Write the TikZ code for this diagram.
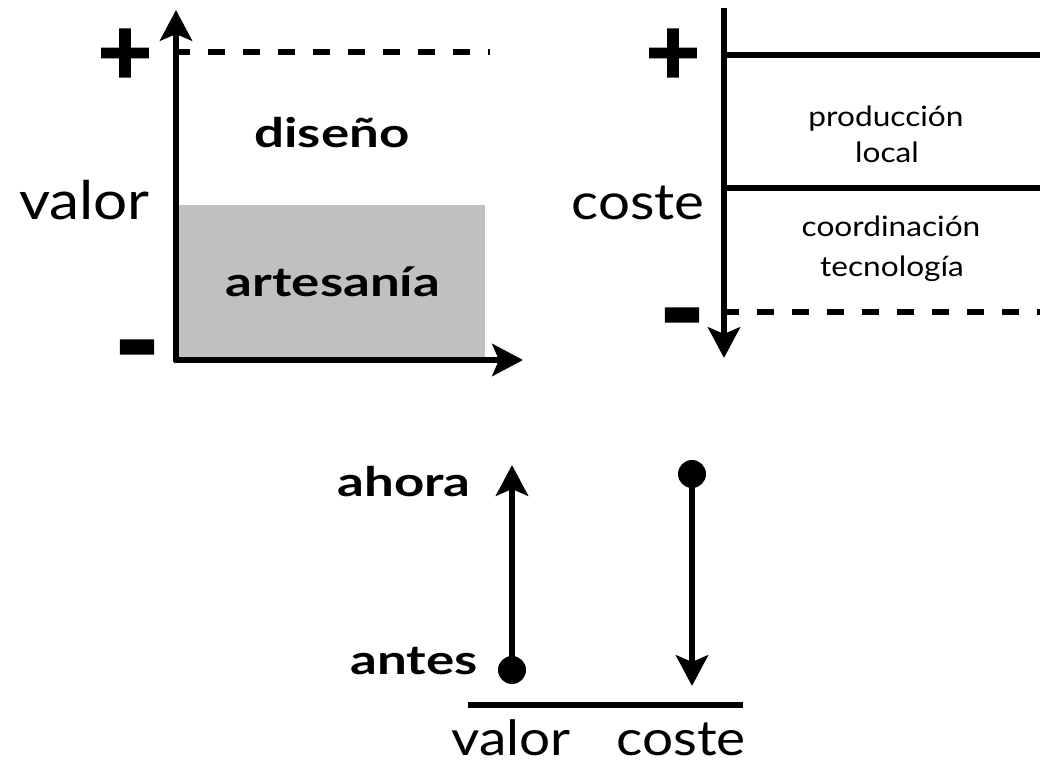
\documentclass[tikz,border=0pt]{standalone}
\usepackage{fontspec}
\setmainfont{Lato}[FakeStretch=1.13, BoldFont={Lato Bold}, BoldFeatures={FakeStretch=1.3}]
\newfontfamily\heavyfont[FakeBold=2.5]{Lato Bold}
\usetikzlibrary{arrows.meta}
\definecolor{boxgray}{RGB}{192,192,192}
\begin{document}
\begin{tikzpicture}[x=0.75pt,y=-0.75pt,
  axis/.style={line width=4.5pt},
  arr/.style={-{Stealth[length=23pt,width=24pt,inset=5pt]}},
  dsh/.style={line width=4.5pt, dash pattern=on 12.75pt off 13.5pt},
  lbl/.style={inner sep=0pt, font=\fontsize{40}{40}\selectfont},
  blbl/.style={inner sep=0pt, font=\fontsize{36.5}{36.5}\selectfont},
  inlbl/.style={inner sep=0pt, font=\bfseries\fontsize{30.5}{30.5}\selectfont},
  small/.style={inner sep=0pt, font=\fontsize{21}{21}\selectfont},
  plussign/.style={inner sep=0pt, font=\heavyfont\fontsize{70}{70}\selectfont},
  minussign/.style={inner sep=0pt, font=\heavyfont\fontsize{90}{90}\selectfont},
  dot/.style={circle, fill=black, inner sep=0pt, minimum size=21pt}]
\useasboundingbox (0,0) rectangle (1040,766);
% ---------- left chart ----------
\coordinate (Ltop) at (176,10);
\coordinate (Lright) at (523,360);
\fill[boxgray] (178,205) rectangle (485,360);
\draw[dsh] (173,52) -- (490,52);
\draw[axis,arr] (176,362.5) -- (Ltop);
\draw[axis,arr] (173.5,360) -- (Lright);
\node[plussign] (lplus) at (125,57) {+};
\node[minussign] (lminus) at (137,362) {-};
\node[lbl, anchor=base east] (lvalor) at (150,220) {valor};
\node[inlbl, anchor=base] (diseno) at (332,148) {diseño};
\node[inlbl, anchor=base] (artesania) at (333,297) {artesanía};
% ---------- right chart ----------
\coordinate (Rtop) at (724,8);
\coordinate (Rbot) at (724,358);
\draw[axis] (724,55) -- (1040,55);
\draw[axis] (724,188) -- (1040,188);
\draw[dsh] (722,312) -- (1040,312);
\draw[axis,arr] (Rtop) -- (Rbot);
\node[plussign] (rplus) at (673,57) {+};
\node[minussign] (rminus) at (682,330) {-};
\node[lbl, anchor=base east, font=\fontsize{37.5}{37.5}\selectfont] (rcoste) at (705,220) {coste};
\node[small, anchor=base] (prod) at (886,127) {producción};
\node[small, anchor=base] (local) at (887,163) {local};
\node[small, anchor=base] (coord) at (891,237) {coordinación};
\node[small, anchor=base] (tecno) at (892,277) {tecnología};
% ---------- bottom ----------
\node[dot] (antesdot) at (512,670) {};
\coordinate (ahoratip) at (512,465);
\node[dot] (costedot) at (692,474) {};
\coordinate (costetip) at (692,686);
\draw[axis,arr] (antesdot.center) -- (ahoratip);
\draw[axis,arr] (costedot.center) -- (costetip);
\coordinate (baseL) at (468,705);
\coordinate (baseR) at (743,705);
\draw[axis] (baseL) -- (baseR);
\node[inlbl, anchor=base east] (ahora) at (471,497) {ahora};
\node[inlbl, anchor=base east] (antes) at (478,675) {antes};
\node[blbl, anchor=base] (bvalor) at (511,755) {valor};
\node[blbl, anchor=base] (bcoste) at (681,755) {coste};
\end{tikzpicture}
\end{document}
